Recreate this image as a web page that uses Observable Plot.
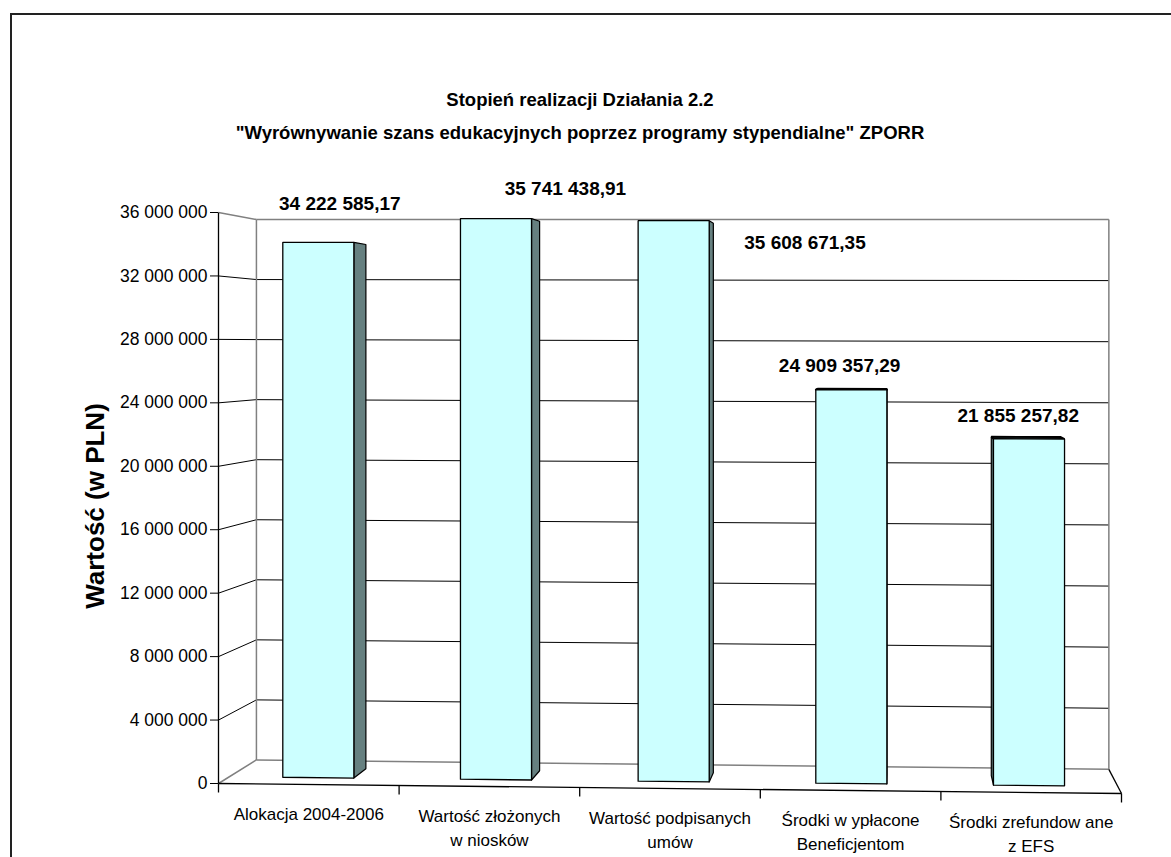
<!DOCTYPE html>
<html><head><meta charset="utf-8">
<script src="https://cdn.jsdelivr.net/npm/d3@7"></script>
<script src="https://cdn.jsdelivr.net/npm/@observablehq/plot@0.6"></script>
<style>
body{margin:0;background:#fff;}
#wrap{position:relative;width:1171px;height:857px;overflow:hidden;font-family:"Liberation Sans",Arial,sans-serif;}
#chart{position:absolute;left:0;top:0;}
#frame{position:absolute;left:10px;top:13px;width:1200px;height:900px;border-left:2px solid #222;border-top:2px solid #222;pointer-events:none;}
#title{position:absolute;left:0;top:83px;width:1160px;text-align:center;font-weight:bold;font-size:18.5px;line-height:33px;color:#000;}
</style></head>
<body>
<div id="wrap"><div id="chart"></div><div id="frame"></div>
<div id="title">Stopień realizacji Działania 2.2<br>"Wyrównywanie szans edukacyjnych poprzez programy stypendialne" ZPORR</div>
</div>
<script>
// ---- data ----
const categories = ["Alokacja 2004-2006", "Wartość złożonych\nw niosków", "Wartość podpisanych\numów", "Środki w ypłacone\nBeneficjentom", "Środki zrefundow ane\nz EFS"];
const values = [34222585.17, 35741438.91, 35608671.35, 24909357.29, 21855257.82];
const yTicks = [0, 4000000, 8000000, 12000000, 16000000, 20000000, 24000000, 28000000, 32000000, 36000000];
const yTitle = "Wartość (w PLN)";

// ---- layout ----
const W = 1171, H = 857;
const mL = 218, mR = 50, mT = 212, mB = 74;
const YMAX = 36000000, NCAT = categories.length;
const pxPerVal = (H - mT - mB) / YMAX;
const labelOffset = [[31, -37], [76, -28], [135, 24], [-11, -23], [-13, -21]];

const pl = d3.formatLocale({decimal: ",", thousands: "\u00a0", grouping: [3]});
const fmtVal = pl.format(",.2f");
const fmtTick = pl.format(",d");

// simple 3D projection (depth 0 = front, 1 = back wall)
function P(u, v, depth) {
  const xs = u + depth * (0.21 - 0.056 * u);
  let vs = v + depth * (1513000 - 0.0543 * v);
  vs -= 126000 * xs * (1 - v / YMAX);
  return {x: xs, y: vs};
}

// bars as faces
const DF = 0.29, DB = 0.68, HALF = 0.2;
const fronts = [], rights = [], lefts = [], tops = [];
values.forEach((v, i) => {
  const l = i + 0.5 - HALF, r = i + 0.5 + HALF;
  const add = (arr, pts, id) => pts.concat([pts[0]]).forEach(p => arr.push({...p, id}));
  add(fronts, [P(l,0,DF), P(r,0,DF), P(r,v,DF), P(l,v,DF)], "f" + i);
  if (P(r,0,DB).x > P(r,0,DF).x) add(rights, [P(r,0,DF), P(r,0,DB), P(r,v,DB), P(r,v,DF)], "r" + i);
  if (P(l,0,DB).x < P(l,0,DF).x) add(lefts, [P(l,0,DF), P(l,0,DB), P(l,v,DB), P(l,v,DF)], "l" + i);
  if (P(l,v,DB).y > P(l,v,DF).y) add(tops, [P(l,v,DF), P(r,v,DF), P(r,v,DB), P(l,v,DB)], "t" + i);
});

const seg = (a, b) => ({x1: a.x, y1: a.y, x2: b.x, y2: b.y});
const inner = yTicks.filter(v => v > 0 && v < YMAX);
const backGrid = inner.map(v => seg(P(0, v, 1), P(NCAT, v, 1)));
const sideGrid = inner.map(v => seg(P(0, v, 0), P(0, v, 1)));
const grayEdges = [
  seg(P(0, 0, 1), P(NCAT, 0, 1)),
  seg(P(0, YMAX, 1), P(NCAT, YMAX, 1)),
  seg(P(0, 0, 1), P(0, YMAX, 1)),
  seg(P(NCAT, 0, 1), P(NCAT, YMAX, 1)),
  seg(P(0, 0, 0), P(0, 0, 1)),
  seg(P(0, YMAX, 0), P(0, YMAX, 1))
];
const blackEdges = [
  seg(P(0, 0, 0), P(NCAT, 0, 0)),
  seg(P(NCAT, 0, 0), P(NCAT, 0, 1)),
  seg(P(0, 0, 0), P(0, YMAX, 0))
];
const xTicks = d3.range(NCAT + 1).map(u => {
  const a = P(u, 0, 0);
  return {x1: a.x, y1: a.y, x2: a.x, y2: a.y - 9 / pxPerVal};
});
const xLab = categories.map((c, i) => ({x: i + 0.5, y: P(i + 0.5, 0, 0).y, text: c}));
const lineXY = {x1: "x1", y1: "y1", x2: "x2", y2: "y2"};

const valueMarks = values.map((v, i) => Plot.text([v], {
  x: () => i + 0.5, y: d => d, text: d => fmtVal(d),
  dx: labelOffset[i][0], dy: labelOffset[i][1],
  fontSize: 19, fontWeight: "bold", fill: "#000"
}));

const chart = Plot.plot({
  width: W, height: H,
  marginLeft: mL, marginRight: mR, marginTop: mT, marginBottom: mB,
  style: {fontFamily: "'Liberation Sans', Arial, sans-serif", fontSize: "17.5px", color: "#000", background: "transparent"},
  x: {domain: [0, NCAT], axis: null},
  y: {domain: [0, YMAX]},
  marks: [
    Plot.link(backGrid, {...lineXY, stroke: "#000", strokeWidth: 1}),
    Plot.link(sideGrid, {...lineXY, stroke: "#000", strokeWidth: 1}),
    Plot.link(grayEdges, {...lineXY, stroke: "#808080", strokeWidth: 1.5}),
    Plot.link(blackEdges, {...lineXY, stroke: "#000", strokeWidth: 1.3}),
    Plot.link(xTicks, {...lineXY, stroke: "#000", strokeWidth: 1.3}),
    Plot.axisY({ticks: yTicks, tickSize: 8, tickPadding: 3, tickFormat: fmtTick, label: null, fontSize: 17.5}),
    Plot.line(rights, {x: "x", y: "y", z: "id", fill: "#668080", stroke: "#000", strokeWidth: 1.2, strokeLinejoin: "miter"}),
    Plot.line(lefts, {x: "x", y: "y", z: "id", fill: "#668080", stroke: "#000", strokeWidth: 1.2, strokeLinejoin: "miter"}),
    Plot.line(tops, {x: "x", y: "y", z: "id", fill: "#1f3333", stroke: "#000", strokeWidth: 1.8, strokeLinejoin: "miter"}),
    Plot.line(fronts, {x: "x", y: "y", z: "id", fill: "#ccffff", stroke: "#000", strokeWidth: 1.3, strokeLinejoin: "miter"}),
    Plot.text(xLab, {x: "x", y: "y", text: "text", lineAnchor: "top", dy: 19, fontSize: 17, lineHeight: 1.4, fill: "#000"}),
    ...valueMarks,
    Plot.text([yTitle], {frameAnchor: "left", text: d => d, rotate: -90, textAnchor: "middle", dx: -123, dy: 8, fontSize: 26, fontWeight: "bold", fill: "#000"})
  ]
});
document.getElementById("chart").appendChild(chart);
</script>
</body></html>
